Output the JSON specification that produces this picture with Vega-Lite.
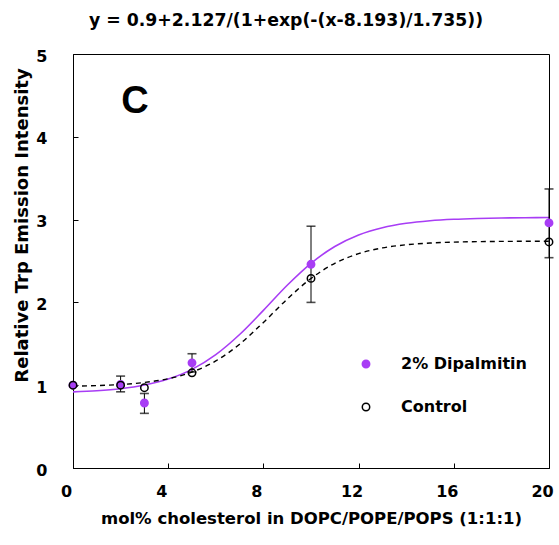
{
  "$schema": "https://vega.github.io/schema/vega-lite/v6.json",
  "autosize": "none",
  "width": 476,
  "height": 414,
  "padding": {"left": 73, "top": 54, "right": 10, "bottom": 77},
  "background": "white",
  "title": {
    "text": "y = 0.9+2.127/(1+exp(-(x-8.193)/1.735))",
    "font": "DejaVu Sans",
    "fontSize": 17.3,
    "fontWeight": "bold",
    "color": "black",
    "anchor": "middle",
    "dx": -25,
    "offset": 19
  },
  "datasets": {
    "points": [
      {"series": "2% Dipalmitin", "x": 0, "y": 1.0},
      {"series": "2% Dipalmitin", "x": 2, "y": 1.01},
      {"series": "2% Dipalmitin", "x": 3, "y": 0.785},
      {"series": "2% Dipalmitin", "x": 5, "y": 1.27},
      {"series": "2% Dipalmitin", "x": 10, "y": 2.46},
      {"series": "2% Dipalmitin", "x": 20, "y": 2.96},
      {"series": "Control", "x": 0, "y": 1.0},
      {"series": "Control", "x": 2, "y": 1.0},
      {"series": "Control", "x": 3, "y": 0.97},
      {"series": "Control", "x": 5, "y": 1.15},
      {"series": "Control", "x": 10, "y": 2.29},
      {"series": "Control", "x": 20, "y": 2.73}
    ],
    "errors": [
      {"x": 2, "lo": 0.92, "hi": 1.11},
      {"x": 3, "lo": 0.66, "hi": 0.9},
      {"x": 5, "lo": 1.16, "hi": 1.38},
      {"x": 10, "lo": 2.0, "hi": 2.92},
      {"x": 20, "lo": 2.54, "hi": 3.37}
    ],
    "curves": [
      {"series": "2% Dipalmitin", "x": 0, "y": 0.919},
      {"series": "2% Dipalmitin", "x": 1, "y": 0.933},
      {"series": "2% Dipalmitin", "x": 2, "y": 0.958},
      {"series": "2% Dipalmitin", "x": 3, "y": 1.002},
      {"series": "2% Dipalmitin", "x": 4, "y": 1.074},
      {"series": "2% Dipalmitin", "x": 5, "y": 1.191},
      {"series": "2% Dipalmitin", "x": 6, "y": 1.369},
      {"series": "2% Dipalmitin", "x": 7, "y": 1.612},
      {"series": "2% Dipalmitin", "x": 8, "y": 1.904},
      {"series": "2% Dipalmitin", "x": 9, "y": 2.207},
      {"series": "2% Dipalmitin", "x": 10, "y": 2.472},
      {"series": "2% Dipalmitin", "x": 11, "y": 2.675},
      {"series": "2% Dipalmitin", "x": 12, "y": 2.814},
      {"series": "2% Dipalmitin", "x": 13, "y": 2.902},
      {"series": "2% Dipalmitin", "x": 14, "y": 2.955},
      {"series": "2% Dipalmitin", "x": 15, "y": 2.986},
      {"series": "2% Dipalmitin", "x": 16, "y": 3.004},
      {"series": "2% Dipalmitin", "x": 17, "y": 3.014},
      {"series": "2% Dipalmitin", "x": 18, "y": 3.02},
      {"series": "2% Dipalmitin", "x": 19, "y": 3.023},
      {"series": "2% Dipalmitin", "x": 20, "y": 3.025},
      {"series": "Control", "x": 0, "y": 0.988},
      {"series": "Control", "x": 1, "y": 0.995},
      {"series": "Control", "x": 2, "y": 1.008},
      {"series": "Control", "x": 3, "y": 1.033},
      {"series": "Control", "x": 4, "y": 1.078},
      {"series": "Control", "x": 5, "y": 1.159},
      {"series": "Control", "x": 6, "y": 1.293},
      {"series": "Control", "x": 7, "y": 1.495},
      {"series": "Control", "x": 8, "y": 1.758},
      {"series": "Control", "x": 9, "y": 2.04},
      {"series": "Control", "x": 10, "y": 2.289},
      {"series": "Control", "x": 11, "y": 2.472},
      {"series": "Control", "x": 12, "y": 2.589},
      {"series": "Control", "x": 13, "y": 2.658},
      {"series": "Control", "x": 14, "y": 2.696},
      {"series": "Control", "x": 15, "y": 2.717},
      {"series": "Control", "x": 16, "y": 2.728},
      {"series": "Control", "x": 17, "y": 2.734},
      {"series": "Control", "x": 18, "y": 2.737},
      {"series": "Control", "x": 19, "y": 2.738},
      {"series": "Control", "x": 20, "y": 2.739}
    ],
    "label": [
      {"x": 2.6, "y": 4.42, "text": "C"}
    ]
  },
  "layer": [
    {
      "data": {"name": "curves"},
      "transform": [{"filter": "datum.series === '2% Dipalmitin'"}],
      "mark": {"type": "line", "color": "#A83DF5", "strokeWidth": 1.6, "interpolate": "monotone"},
      "encoding": {
        "x": {
          "field": "x", "type": "quantitative",
          "scale": {"domain": [0, 20], "nice": false, "zero": false},
          "axis": {
            "title": "mol% cholesterol in DOPC/POPE/POPS (1:1:1)",
            "values": [0, 4, 8, 12, 16, 20],
            "format": "d",
            "labelOffset": -7,
            "labelPadding": 20,
            "titlePadding": 11,
            "titleFontSize": 16.5
          }
        },
        "y": {
          "field": "y", "type": "quantitative",
          "scale": {"domain": [0, 5], "nice": false, "zero": false},
          "axis": {
            "title": "Relative Trp Emission Intensity",
            "values": [0, 1, 2, 3, 4, 5],
            "format": "d",
            "labelPadding": 31,
            "labelOffset": 2,
            "titleX": -51,
            "titleY": 171,
            "titleBaseline": "middle",
            "titleFontSize": 18
          }
        }
      }
    },
    {
      "data": {"name": "curves"},
      "transform": [{"filter": "datum.series === 'Control'"}],
      "mark": {"type": "line", "color": "black", "strokeWidth": 1.4, "strokeDash": [5, 4], "interpolate": "monotone"},
      "encoding": {
        "x": {"field": "x", "type": "quantitative"},
        "y": {"field": "y", "type": "quantitative"}
      }
    },
    {
      "data": {"name": "errors"},
      "mark": {"type": "rule", "color": "black", "strokeWidth": 1},
      "encoding": {
        "x": {"field": "x", "type": "quantitative"},
        "y": {"field": "lo", "type": "quantitative"},
        "y2": {"field": "hi"}
      }
    },
    {
      "data": {"name": "errors"},
      "mark": {"type": "tick", "orient": "horizontal", "color": "black", "size": 9, "thickness": 1.6},
      "encoding": {
        "x": {"field": "x", "type": "quantitative"},
        "y": {"field": "lo", "type": "quantitative"}
      }
    },
    {
      "data": {"name": "errors"},
      "mark": {"type": "tick", "orient": "horizontal", "color": "black", "size": 9, "thickness": 1.6},
      "encoding": {
        "x": {"field": "x", "type": "quantitative"},
        "y": {"field": "hi", "type": "quantitative"}
      }
    },
    {
      "data": {"name": "points"},
      "mark": {"type": "point", "filled": true, "size": 55, "strokeWidth": 1.5, "opacity": 1, "shape": "circle"},
      "encoding": {
        "x": {"field": "x", "type": "quantitative"},
        "y": {"field": "y", "type": "quantitative"},
        "fill": {
          "field": "series", "type": "nominal",
          "scale": {"domain": ["2% Dipalmitin", "Control"], "range": ["#A83DF5", "transparent"]},
          "legend": {"title": null}
        },
        "stroke": {
          "field": "series", "type": "nominal",
          "scale": {"domain": ["2% Dipalmitin", "Control"], "range": ["#A83DF5", "black"]},
          "legend": {"title": null}
        }
      }
    },
    {
      "data": {"name": "label"},
      "mark": {"type": "text", "font": "Liberation Sans", "fontWeight": "bold", "fontSize": 38, "align": "center", "baseline": "middle", "color": "black"},
      "encoding": {
        "x": {"field": "x", "type": "quantitative"},
        "y": {"field": "y", "type": "quantitative"},
        "text": {"field": "text"}
      }
    }
  ],
  "config": {
    "view": {"stroke": "black", "strokeWidth": 1},
    "axis": {
      "grid": false,
      "domainColor": "black",
      "domainWidth": 1,
      "tickColor": "black",
      "tickSize": -5,
      "tickWidth": 1,
      "labelFont": "DejaVu Sans",
      "labelFontSize": 16,
      "labelFontWeight": "bold",
      "labelColor": "black",
      "labelFlush": false,
      "labelOverlap": false,
      "titleFont": "DejaVu Sans",
      "titleFontSize": 15,
      "titleFontWeight": "bold",
      "titleColor": "black"
    },
    "legend": {
      "orient": "none",
      "legendX": 285,
      "legendY": 302,
      "padding": 0,
      "labelFont": "DejaVu Sans",
      "labelFontSize": 16,
      "labelFontWeight": "bold",
      "labelColor": "black",
      "labelOffset": 27,
      "rowPadding": 27,
      "symbolSize": 55,
      "symbolStrokeWidth": 1.5,
      "symbolType": "circle"
    }
  }
}
